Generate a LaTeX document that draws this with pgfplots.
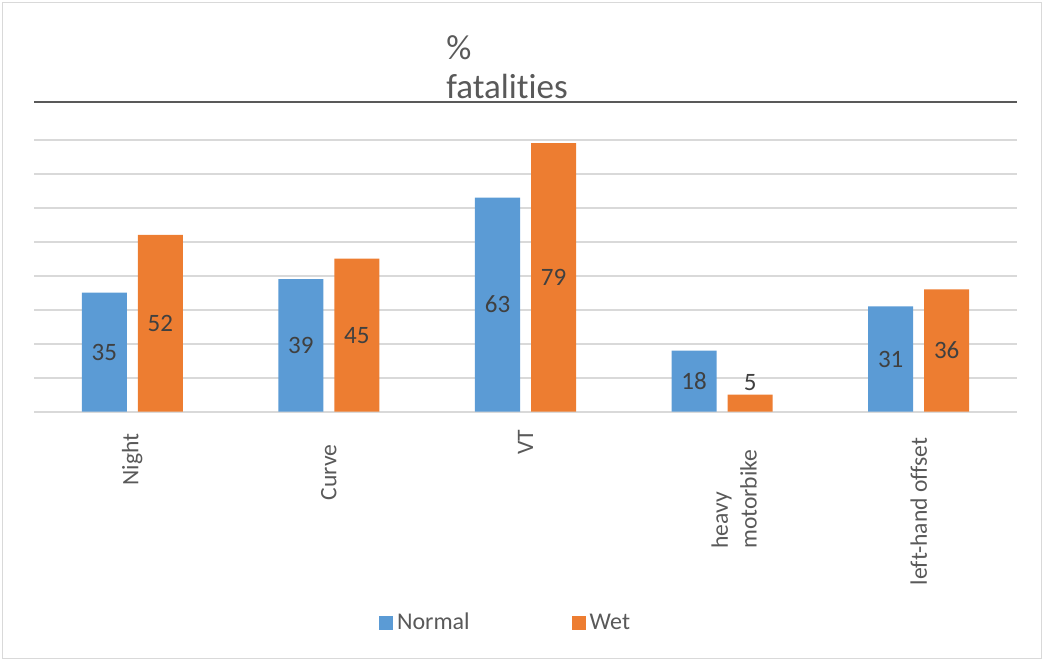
\documentclass[border=0pt]{standalone}
\usepackage{pgfplots}
\pgfplotsset{compat=1.18}
\usepackage{fontspec}
\setmainfont{Carlito}[Ligatures={NoCommon}]
\definecolor{nblue}{HTML}{5B9BD5}
\definecolor{worange}{HTML}{ED7D31}
\definecolor{gridgray}{HTML}{D9D9D9}
\definecolor{topgray}{HTML}{595959}
\definecolor{txtgray}{HTML}{595959}
\definecolor{lblgray}{HTML}{404040}
\begin{document}
\begin{tikzpicture}
% page frame (1044 x 661 px at 0.5pt/px)
\path[use as bounding box] (-17pt,-124.65pt) rectangle (505pt,205.85pt);
\draw[gridgray, line width=0.75pt] (-15.75pt,-123.4pt) rectangle (503.75pt,204.6pt);
\begin{axis}[
  scale only axis, width=491.5pt, height=154.7pt,
  at={(0,0)}, anchor=south west,
  ybar=5.5pt, bar width=22.5pt,
  xmin=-0.5, xmax=4.5, ymin=0, ymax=91,
  xtick={0,1,2,3,4},
  xticklabels={
    {Night\hspace*{6.5pt}},
    {Curve\hspace*{12pt}},
    {VT\hspace*{4.5pt}},
    {\begin{tabular}{@{}l@{\hspace*{14.5pt}}}\mbox{}\\heavy\\motorbike\end{tabular}},
    {left-hand offset\hspace*{8.5pt}}},
  xticklabel style={rotate=90, anchor=east, inner sep=0pt, font=\fontsize{11.8}{14.4}\selectfont, text=txtgray},
  ytick={0,10,...,80}, yticklabels={},
  extra y ticks={91}, extra y tick labels={},
  extra y tick style={major grid style={draw=topgray, line width=1pt}},
  ymajorgrids, major grid style={draw=gridgray, line width=0.8pt},
  axis line style={draw=none}, tick style={draw=none},
  /pgf/number format/assume math mode=true,
  nodes near coords,
  visualization depends on=y \as \rawy,
  every node near coord/.append style={font=\fontsize{12.5}{15}\selectfont, text=lblgray, anchor=center,
     shift={(axis direction cs:0,{(\rawy>8)*(-\rawy/2)+(\rawy<=8)*3.5})}},
  legend style={at={(0.4807,-0.683)}, anchor=center, draw=none, fill=none,
     legend columns=-1, font=\fontsize{12}{14.4}\selectfont, text=txtgray,
     /tikz/every even column/.append style={column sep=49pt}},
  clip=false,
]
\addplot[fill=nblue, draw=none,
  legend image code/.code={\fill[nblue] (0pt,-3.5pt) rectangle (7pt,3.5pt);}]
  coordinates {(0,35) (1,39) (2,63) (3,18) (4,31)};
\addlegendentry{Normal}
\addplot[fill=worange, draw=none,
  legend image code/.code={\fill[worange] (0pt,-3.5pt) rectangle (7pt,3.5pt);}]
  coordinates {(0,52) (1,45) (2,79) (3,5) (4,36)};
\addlegendentry{Wet}
\end{axis}
\node[anchor=base west, inner sep=0pt, text=txtgray, font=\fontsize{17.5}{21}\selectfont] at (206pt,176.1pt) {\%};
\node[anchor=base west, inner sep=0pt, text=txtgray, font=\fontsize{17.5}{21}\selectfont] at (206pt,156.7pt) {fatalities};
\end{tikzpicture}
\end{document}
